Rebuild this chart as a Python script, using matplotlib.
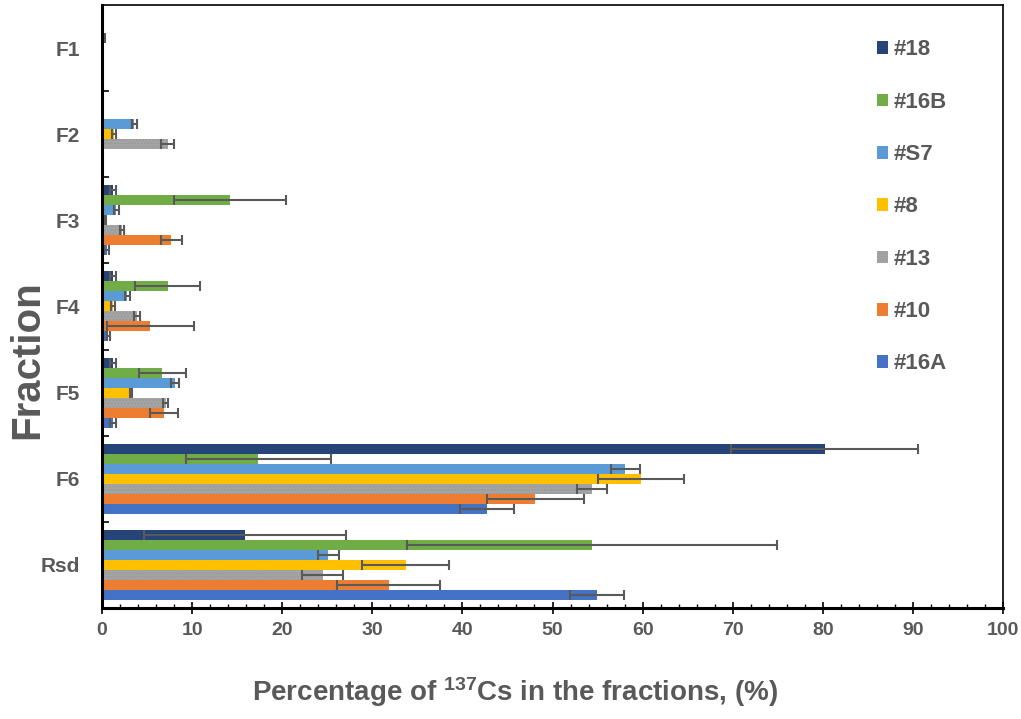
import numpy as np
import matplotlib.pyplot as plt
from matplotlib.ticker import MultipleLocator, FixedLocator

plt.rcParams['font.family'] = ['Liberation Sans', 'DejaVu Sans']
plt.rcParams['mathtext.fontset'] = 'custom'
plt.rcParams['mathtext.bf'] = 'Liberation Sans:bold'
plt.rcParams['mathtext.rm'] = 'Liberation Sans:bold'
plt.rcParams['mathtext.default'] = 'bf'

# fractions (top to bottom)
fractions = ['F1', 'F2', 'F3', 'F4', 'F5', 'F6', 'Rsd']

# series, drawn bottom-to-top inside each group
samples = ['#16A', '#10', '#13', '#8', '#S7', '#16B', '#18']
colors = ['#4472C4', '#ED7D31', '#A5A5A5', '#FFC000', '#5B9BD5', '#70AD47', '#264478']

# percentage of 137Cs (F1, F2, F3, F4, F5, F6, Rsd)
val_16A = [0.0, 0.0, 0.5, 0.7, 1.2, 42.7, 54.9]
val_10 = [0.0, 0.0, 7.7, 5.35, 6.85, 48.1, 31.8]
val_13 = [0.0, 7.3, 2.2, 3.9, 7.05, 54.4, 24.5]
val_8 = [0.0, 1.3, 0.3, 1.2, 3.2, 59.8, 33.7]
val_S7 = [0.1, 3.6, 1.6, 2.8, 8.1, 58.1, 25.1]
val_16B = [0.0, 0.0, 14.2, 7.3, 6.7, 17.35, 54.4]
val_18 = [0.0, 0.0, 1.2, 1.2, 1.2, 80.2, 15.9]

# error bars (+/-)
err_16A = [0.0, 0.0, 0.25, 0.2, 0.3, 3.0, 3.0]
err_10 = [0.0, 0.0, 1.2, 4.85, 1.55, 5.35, 5.75]
err_13 = [0.0, 0.7, 0.25, 0.3, 0.25, 1.7, 2.3]
err_8 = [0.0, 0.2, 0.1, 0.2, 0.1, 4.8, 4.85]
err_S7 = [0.2, 0.3, 0.25, 0.3, 0.45, 1.6, 1.15]
err_16B = [0.0, 0.0, 6.2, 3.6, 2.6, 8.05, 20.5]
err_18 = [0.0, 0.0, 0.3, 0.3, 0.3, 10.4, 11.2]

values = [val_16A, val_10, val_13, val_8, val_S7, val_16B, val_18]
errors = [err_16A, err_10, err_13, err_8, err_S7, err_16B, err_18]

text_col = '#595959'

fig = plt.figure(figsize=(10.21, 7.19), dpi=100)
ax = fig.add_axes([0.0999, 0.1544, 0.8825, 0.8387])

y = np.arange(len(fractions))
h = 0.116
n = len(samples)
for i, (name, col) in enumerate(zip(samples, colors)):
    pos = y + (n // 2 - i) * h
    kw = {}
    if name == '#13':
        kw = dict(hatch='.....', edgecolor='#999999', linewidth=0)
    ax.barh(pos, values[i], height=h, color=col, label=name, **kw)
    ax.errorbar(values[i], pos, xerr=errors[i], fmt='none', ecolor='#595959',
                elinewidth=1.5, capsize=3.5, capthick=1.5)

ax.set_xlim(0, 100)
ax.set_ylim(len(fractions) - 0.5, -0.5)

ax.xaxis.set_major_locator(MultipleLocator(10))
ax.xaxis.set_minor_locator(MultipleLocator(2))
ax.tick_params(axis='x', which='major', direction='inout', length=8, width=1.2,
               labelsize=14, labelcolor=text_col, pad=6)
ax.tick_params(axis='x', which='minor', direction='in', length=3, width=1)
for lbl in ax.get_xticklabels():
    lbl.set_fontweight('bold')

ax.set_yticks(y)
ax.set_yticklabels(fractions, fontsize=15, fontweight='bold', color=text_col)
ax.yaxis.set_minor_locator(FixedLocator(np.arange(0.5, len(fractions) - 1, 1)))
ax.tick_params(axis='y', which='major', length=0, pad=16)
ax.tick_params(axis='y', which='minor', direction='in', length=5, width=1.2)

for s in ['left', 'bottom']:
    ax.spines[s].set_linewidth(2.2)
for s in ['top', 'right']:
    ax.spines[s].set_linewidth(1.2)

handles, labels = ax.get_legend_handles_labels()
leg = ax.legend(handles[::-1], labels[::-1], loc='upper left',
                bbox_to_anchor=(0.839, 0.973), bbox_transform=fig.transFigure,
                frameon=False, labelspacing=1.41, handlelength=0.5,
                handleheight=0.5, handletextpad=0.25,
                prop={'weight': 'bold', 'size': 16})
for t in leg.get_texts():
    t.set_color(text_col)

fig.text(27 / 1021, 1 - 360 / 719, 'Fraction', rotation=90, ha='center',
         va='center', fontsize=29, fontweight='bold', color=text_col)
fig.text(515 / 1021, 1 - 692 / 719,
         r'Percentage of $^{137}$Cs in the fractions, (%)', ha='center',
         va='center', fontsize=20, fontweight='bold', color=text_col)

fig.savefig('out.png', dpi=100)
